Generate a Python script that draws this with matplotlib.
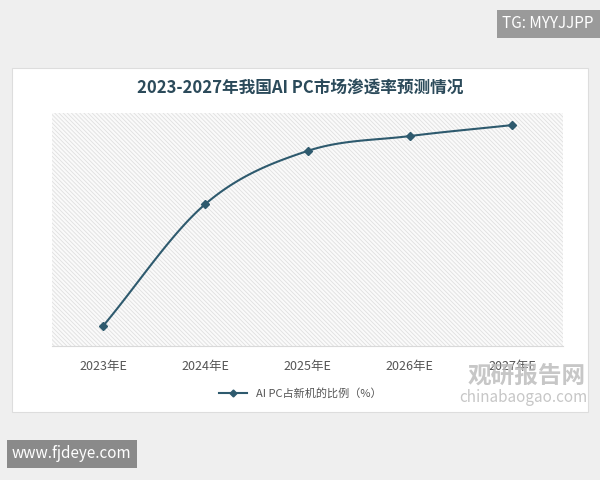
import numpy as np
import matplotlib.pyplot as plt
from matplotlib.patches import Rectangle
from matplotlib.lines import Line2D

plt.rcParams['font.family'] = ['Noto Sans CJK SC', 'DejaVu Sans']
plt.rcParams['hatch.linewidth'] = 0.6

years = ['2023年E', '2024年E', '2025年E', '2026年E', '2027年E']
share = [8.6, 60.9, 83.7, 90.1, 94.8]
series_name = 'AI PC占新机的比例（%）'
color = '#2e5a6e'


def smooth(x, y, n=30):
    # catmull-rom curve through the points, for the drawn line only
    x = np.asarray(x, float)
    y = np.asarray(y, float)
    px = np.r_[2 * x[0] - x[1], x, 2 * x[-1] - x[-2]]
    py = np.r_[2 * y[0] - y[1], y, 2 * y[-1] - y[-2]]
    xs, ys = [], []
    t = np.linspace(0, 1, n)
    for i in range(1, len(px) - 2):
        for p, out in ((px, xs), (py, ys)):
            p0, p1, p2, p3 = p[i - 1:i + 3]
            out.extend(0.5 * (2 * p1 + (-p0 + p2) * t + (2 * p0 - 5 * p1 + 4 * p2 - p3) * t ** 2
                              + (-p0 + 3 * p1 - 3 * p2 + p3) * t ** 3))
    return np.array(xs), np.array(ys)


fig = plt.figure(figsize=(6, 4.8), dpi=100)
fig.patch.set_facecolor('#efefef')
fig.add_artist(Rectangle((12 / 600, 1 - 412 / 480), 576 / 600, 344 / 480, transform=fig.transFigure,
                         facecolor='white', edgecolor='#dddddd', lw=0.8, zorder=-10))

ax = fig.add_axes([52 / 600, 1 - 346 / 480, 511 / 600, 233 / 480])
ax.patch.set_alpha(0)
x = np.arange(len(years))
ax.add_patch(Rectangle((0, 0), 1, 1, transform=ax.transAxes, facecolor='#fafafa',
                       hatch='\\' * 8, edgecolor='#e0e0e0', lw=0, zorder=0))
sx, sy = smooth(x, share)
ax.plot(sx, sy, color=color, lw=1.5, zorder=3)
ax.plot(x, share, 'D', color=color, ms=4.5, zorder=4)
ax.set_xlim(-0.5, len(years) - 0.5)
ax.set_ylim(0, 100)
ax.set_yticks([])
ax.set_xticks(x, years, fontsize=9, color='#555555')
ax.tick_params(axis='x', length=0, pad=10)
for s in ['top', 'left', 'right']:
    ax.spines[s].set_visible(False)
ax.spines['bottom'].set_color('#d9d9d9')

fig.text(0.5, 1 - 89 / 480, '2023-2027年我国AI PC市场渗透率预测情况', ha='center', va='center',
         fontsize=12, fontweight='bold', color='#2b4a5a')
handle = Line2D([], [], color=color, marker='D', ms=3.5, lw=1.5)
fig.legend([handle], [series_name], loc='center', bbox_to_anchor=(0.5, 1 - 393 / 480), frameon=False,
           fontsize=8, labelcolor='#555555', handlelength=2.5)

fig.text(0.99, 1 - 24 / 480, 'TG: MYYJJPP', ha='right', va='center', fontsize=11, color='white',
         bbox=dict(facecolor='#9a9a9a', edgecolor='none', pad=4))
fig.text(0.02, 1 - 454 / 480, 'www.fjdeye.com', ha='left', va='center', fontsize=11, color='white',
         bbox=dict(facecolor='#8a8a8a', edgecolor='none', pad=4))
fig.text(0.78, 1 - 376 / 480, '观研报告网', ha='left', va='center', fontsize=17, fontweight='bold',
         color='#bdbdbd', alpha=0.85)
fig.text(0.765, 1 - 398 / 480, 'chinabaogao.com', ha='left', va='center', fontsize=11,
         color='#bdbdbd', alpha=0.85)

fig.savefig('out.png', dpi=100)
